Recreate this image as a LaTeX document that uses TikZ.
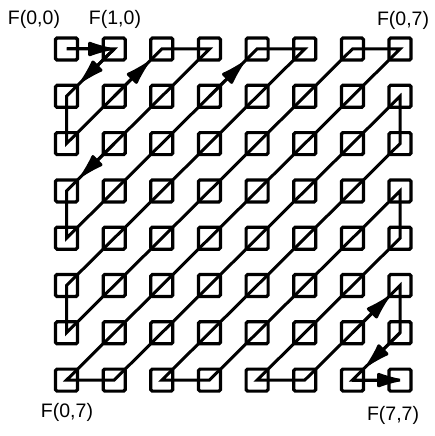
\documentclass[tikz,border=0pt]{standalone}
\usepackage{fontspec}
\setmainfont{Liberation Sans}
\usetikzlibrary{arrows.meta,calc}

\begin{document}
\begin{tikzpicture}[x=1pt,y=-1pt,
cell/.style={draw,rectangle,line width=3.2pt,rounded corners=1.5pt,minimum size=22pt,inner sep=0pt},
scan/.style={line width=3pt},
dir/.style={line width=3pt,-{Latex[length=30pt,width=16pt,round]}},
lbl/.style={font=\fontsize{19.5}{23}\selectfont,inner sep=0pt}]
\useasboundingbox (0,0) rectangle (434,436);
\foreach \r in {0,...,7}
  \foreach \c in {0,...,7}
    \node (c\r\c) [cell] at (66.5+47.65*\c,49+47.3*\r) {};

\draw[scan] (c00.center) -- (c01.center) -- (c10.center) -- (c20.center)
  -- (c02.center) -- (c03.center) -- (c30.center) -- (c40.center)
  -- (c04.center) -- (c05.center) -- (c50.center) -- (c60.center)
  -- (c06.center) -- (c07.center) -- (c70.center) -- (c71.center)
  -- (c17.center) -- (c27.center) -- (c72.center) -- (c73.center)
  -- (c37.center) -- (c47.center) -- (c74.center) -- (c75.center)
  -- (c57.center) -- (c67.center) -- (c76.center) -- (c77.center);

\draw[dir] (c00.center) -- ($(c01.center)+(-3,0)$);
\draw[dir] (c01.center) -- ($(c01.center)!0.68!(c10.center)$);
\draw[dir] (c11.center) -- ($(c11.center)!0.7!(c02.center)$);
\draw[dir] (c21.center) -- ($(c21.center)!0.68!(c30.center)$);
\draw[dir] (c13.center) -- ($(c13.center)!0.7!(c04.center)$);
\draw[dir] (c66.center) -- ($(c66.center)!0.74!(c57.center)$);
\draw[dir] (c67.center) -- ($(c67.center)!0.68!(c76.center)$);
\draw[dir] (c76.center) -- (c77.center);

\node (l00) [lbl] at (34,19) {F(0,0)};
\node (l10) [lbl] at (115,19) {F(1,0)};
\node (l07) [lbl] at (403,20) {F(0,7)};
\node (l70) [lbl] at (67,412) {F(0,7)};
\node (l77) [lbl] at (393,415) {F(7,7)};
\end{tikzpicture}
\end{document}
